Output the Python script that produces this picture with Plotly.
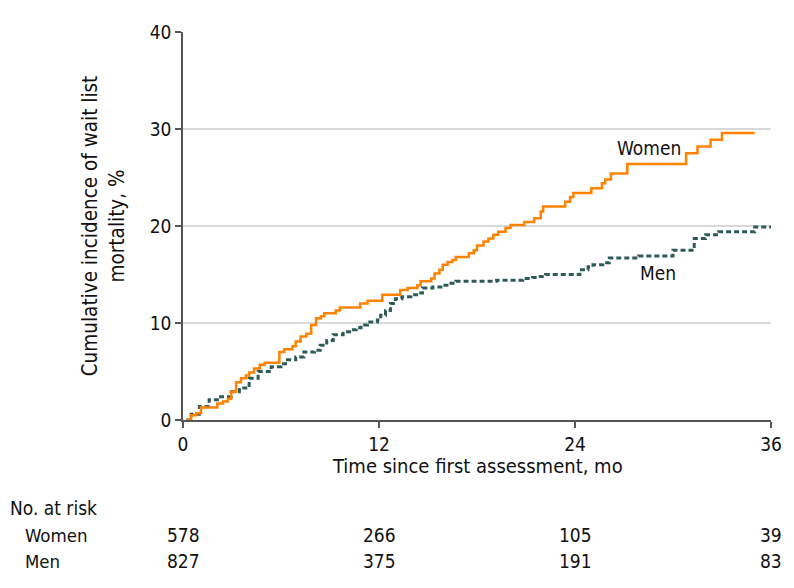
import plotly.graph_objects as go

women_t = [0.25,0.5,0.8,1.1,2.1,2.45,2.75,2.95,3.25,3.55,3.85,4.05,4.35,4.7,5.0,5.9,6.2,6.7,6.9,7.2,
           7.55,7.85,8.15,8.45,8.65,9.35,9.6,10.85,11.3,12.2,13.3,13.75,14.35,14.55,15.2,15.4,15.7,15.9,
           16.2,16.5,16.7,17.5,17.8,18.0,18.4,18.7,19.0,19.3,19.75,20.05,20.9,21.5,21.9,22.05,23.4,23.7,
           23.9,25.0,25.65,25.85,26.2,27.2,30.8,31.5,32.3,33.0,35.0]
women_y = [0,0.5,0.7,1.3,1.7,1.9,2.2,2.9,3.9,4.3,4.6,4.9,5.3,5.7,5.9,7.0,7.3,7.6,8.1,8.6,
           8.9,9.8,10.5,10.7,11.0,11.3,11.6,12.0,12.3,12.9,13.4,13.6,13.9,14.3,14.6,15.1,15.5,16.0,
           16.3,16.5,16.8,17.2,17.5,18.0,18.4,18.7,19.1,19.4,19.8,20.1,20.4,20.8,21.5,22.0,22.5,23.0,
           23.4,23.9,24.4,24.8,25.4,26.4,27.5,28.2,28.9,29.6,29.6]

men_t = [0.2,0.5,1.0,1.6,2.3,2.95,3.45,4.05,4.6,5.4,6.0,6.4,6.9,7.4,8.05,8.4,8.8,9.2,9.8,10.2,
         10.6,10.9,11.3,11.9,12.1,12.4,12.7,13.0,13.4,13.95,14.46,14.66,15.3,15.9,16.3,16.7,19.2,20.8,
         21.4,21.7,22.2,24.3,24.8,25.1,25.7,26.1,27.9,30.0,31.3,32.0,32.8,35.0,36.0]
men_y = [0,0.6,1.4,2.1,2.4,2.9,3.3,4.3,5.0,5.5,5.8,6.2,6.5,7.0,7.2,7.7,8.2,8.8,9.1,9.3,
         9.5,9.8,10.1,10.3,10.8,11.3,12.0,12.5,12.7,12.9,13.1,13.6,13.7,13.9,14.1,14.3,14.4,14.6,
         14.7,14.8,15.0,15.5,15.8,16.0,16.2,16.7,16.9,17.5,18.7,19.1,19.4,19.9,19.9]

x_ticks = [0, 12, 24, 36]
y_ticks = [0, 10, 20, 30, 40]
risk_groups = ["Women", "Men"]
risk_women = [578, 266, 105, 39]
risk_men = [827, 375, 191, 83]

FONT = "DejaVu Sans Condensed, sans-serif"
ORANGE = "#FF8200"
TEAL = "#2E5B58"

fig = go.Figure()
fig.add_trace(go.Scatter(x=men_t, y=men_y, mode="lines", line_shape="hv",
                         line=dict(color=TEAL, width=3, dash="5px,3px"), name="Men"))
fig.add_trace(go.Scatter(x=women_t, y=women_y, mode="lines", line_shape="hv",
                         line=dict(color=ORANGE, width=2.5), name="Women"))

# page body has an 8px margin; figure is sized so the plot area sits at screen x 183-773, y 32-420
fig.update_layout(
    width=786, height=580,
    margin=dict(l=175, r=21, t=24, b=168),
    plot_bgcolor="white", paper_bgcolor="white",
    showlegend=False,
    font=dict(family=FONT, size=19, color="#111"),
    xaxis=dict(range=[0, 36], tickvals=x_ticks, ticks="outside", ticklen=6, tickwidth=1.5,
               tickcolor="#555", showline=True, linecolor="#555", linewidth=1.5,
               showgrid=False, zeroline=False, tickfont=dict(size=19)),
    yaxis=dict(range=[0, 40], tickvals=y_ticks, ticks="outside", ticklen=6, tickwidth=1.5,
               tickcolor="#555", showline=True, linecolor="#555", linewidth=1.5,
               showgrid=True, gridcolor="#d9d9d9", gridwidth=1.5, zeroline=False,
               tickfont=dict(size=19)),
)

ann = []
ann.append(dict(text="Cumulative incidence of wait list<br>mortality, %", textangle=-90,
                xref="paper", yref="paper", x=(103-183)/590, y=0.5, showarrow=False,
                font=dict(size=20.5), xanchor="center", yanchor="middle"))
ann.append(dict(text="Time since first assessment, mo", xref="paper", yref="paper",
                x=0.5, y=(420-466)/388, showarrow=False, font=dict(size=20),
                xanchor="center", yanchor="middle"))
ann.append(dict(text="Women", xref="x", yref="y", x=28.5, y=28.0, showarrow=False,
                font=dict(size=19), xanchor="center", yanchor="middle"))
ann.append(dict(text="Men", xref="x", yref="y", x=29.1, y=15.2, showarrow=False,
                font=dict(size=19), xanchor="center", yanchor="middle"))
ann.append(dict(text="No. at risk", xref="paper", yref="paper", x=(7-183)/590,
                y=(420-508)/388, showarrow=False, font=dict(size=19),
                xanchor="left", yanchor="middle"))
rows_y = [535, 561]
for g, vals, yp in zip(risk_groups, [risk_women, risk_men], rows_y):
    ann.append(dict(text=g, xref="paper", yref="paper", x=(22-183)/590, y=(420-yp)/388,
                    showarrow=False, font=dict(size=18.5), xanchor="left", yanchor="middle"))
    for xv, v in zip(x_ticks, vals):
        ann.append(dict(text=str(v), xref="x", yref="paper", x=xv, y=(420-yp)/388,
                        showarrow=False, font=dict(size=19), xanchor="center",
                        yanchor="middle"))
fig.update_layout(annotations=ann)

fig.write_html("out.html")
